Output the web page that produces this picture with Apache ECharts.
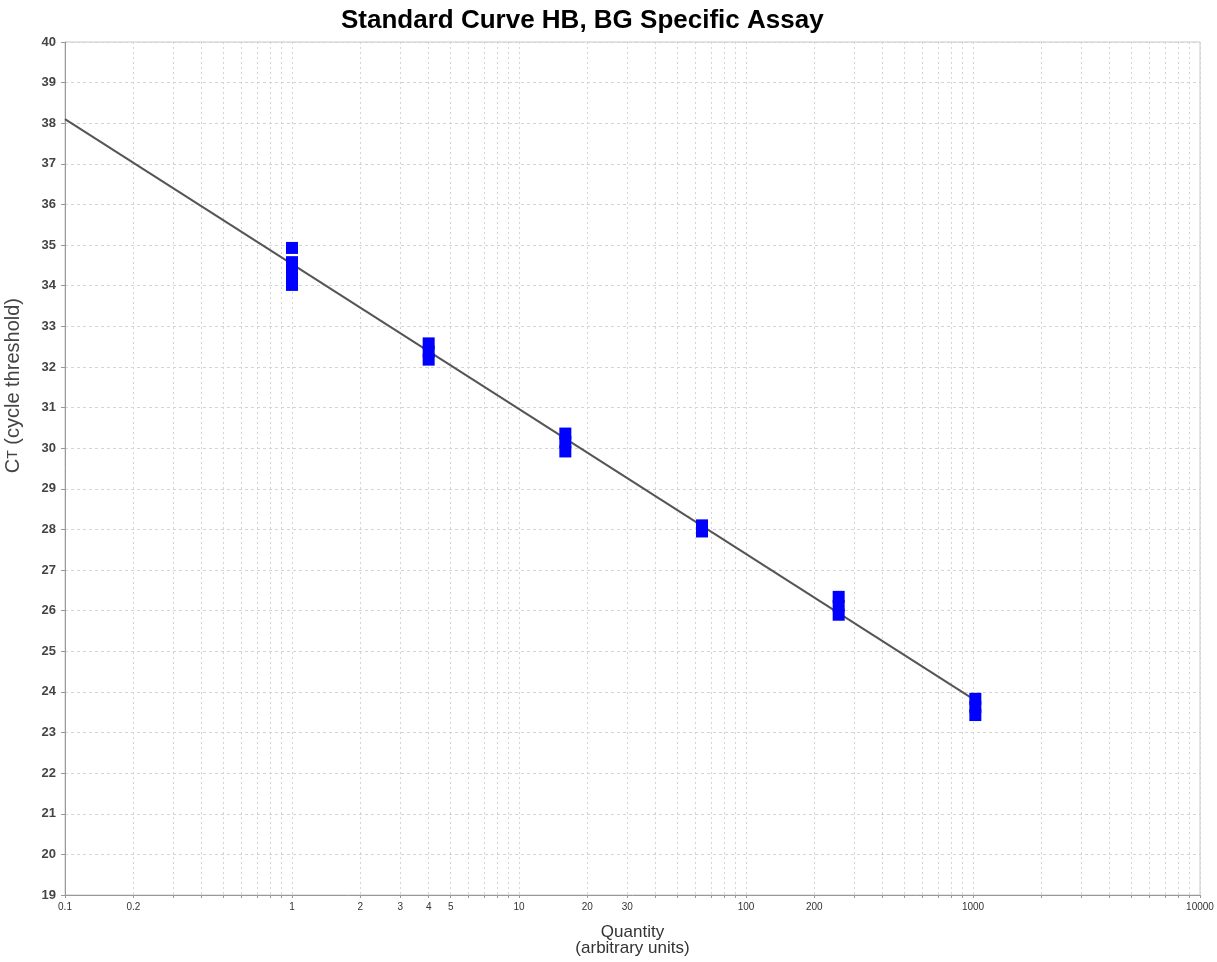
<!DOCTYPE html>
<html>
<head>
<meta charset="utf-8">
<script src="https://cdn.jsdelivr.net/npm/echarts@6/dist/echarts.min.js"></script>
<style>html,body{margin:0;padding:0;background:#fff}#c{width:1217px;height:962px}</style>
</head>
<body>
<div id="c"></div>
<script>
// Data
const quantities = [1, 1, 1, 1, 4, 4, 4, 16, 16, 16, 64, 64, 64, 256, 256, 256, 1024, 1024, 1024];
const ctValues   = [34.93, 34.58, 34.30, 34.02, 32.58, 32.38, 32.18, 30.36, 30.15, 29.92, 28.10, 28.02, 27.95, 26.34, 26.12, 25.90, 23.83, 23.63, 23.43];
const fitQuantity = [0.1, 1024];
const fitCt = [38.10, 23.79];
const xLabelValues = [0.1, 0.2, 1, 2, 3, 4, 5, 10, 20, 30, 100, 200, 1000, 10000];
const decades = [0.1, 1, 10, 100, 1000];
const yMin = 19, yMax = 40;

const xGridValues = [];
decades.forEach(function (p) {
  for (let k = 1; k <= 9; k++) xGridValues.push(Number((k * p).toPrecision(10)));
});
xGridValues.push(10000);

const chart = echarts.init(document.getElementById('c'), null, {renderer: 'canvas'});
const font = 'Liberation Sans, Arial, sans-serif';
chart.setOption({
  animation: false,
  backgroundColor: '#fff',
  title: {
    text: 'Standard Curve HB, BG Specific Assay',
    left: 336, top: 3,
    textStyle: {fontFamily: font, fontSize: 26, fontWeight: 'bold', color: '#000'}
  },
  grid: {left: 65, right: 17, top: 42, bottom: 67, containLabel: false,
    show: true, borderColor: '#c8c8c8', borderWidth: 1},
  xAxis: {
    type: 'log', logBase: 10, min: 0.1, max: 10000,
    name: 'Quantity\n(arbitrary units)', nameLocation: 'middle', nameGap: 29,
    nameTextStyle: {fontFamily: font, fontSize: 17, color: '#333', lineHeight: 16},
    axisLine: {show: true, lineStyle: {color: '#999', width: 1}},
    axisTick: {show: true, length: 3, customValues: xGridValues, lineStyle: {color: '#999'}},
    axisLabel: {customValues: xLabelValues, fontFamily: font, fontSize: 10, color: '#333', margin: 7,
      formatter: function (v) { return String(Number(v.toPrecision(10))); }},
    splitLine: {show: true, lineStyle: {color: '#d4d4d4', type: [2, 3], width: 1}},
    minorTick: {show: false}
  },
  yAxis: {
    type: 'value', min: yMin, max: yMax, interval: 1,
    axisLine: {show: true, lineStyle: {color: '#999', width: 1}},
    axisTick: {show: true, length: 4, lineStyle: {color: '#999'}},
    axisLabel: {fontFamily: font, fontSize: 13, fontWeight: 'bold', color: '#444', margin: 9},
    splitLine: {show: true, lineStyle: {color: '#d4d4d4', type: [3, 3], width: 1}}
  },
  graphic: [{
    type: 'text', left: 3, top: 298,
    rotation: Math.PI / 2,
    style: {
      text: 'C{s|T} (cycle threshold)',
      fontFamily: font, fontSize: 20, fill: '#444',
      rich: {s: {fontFamily: font, fontSize: 14, fill: '#444', verticalAlign: 'middle'}}
    }
  }],
  series: [{
    type: 'line',
    data: fitQuantity.map(function (q, i) { return [q, fitCt[i]]; }),
    symbol: 'none', lineStyle: {color: '#555', width: 2}, z: 2, silent: true
  }, {
    type: 'scatter',
    data: quantities.map(function (q, i) { return [q, ctValues[i]]; }),
    symbol: 'rect', symbolSize: [12, 12],
    itemStyle: {color: '#0000ff', opacity: 1}, z: 3
  }]
});
</script>
</body>
</html>
